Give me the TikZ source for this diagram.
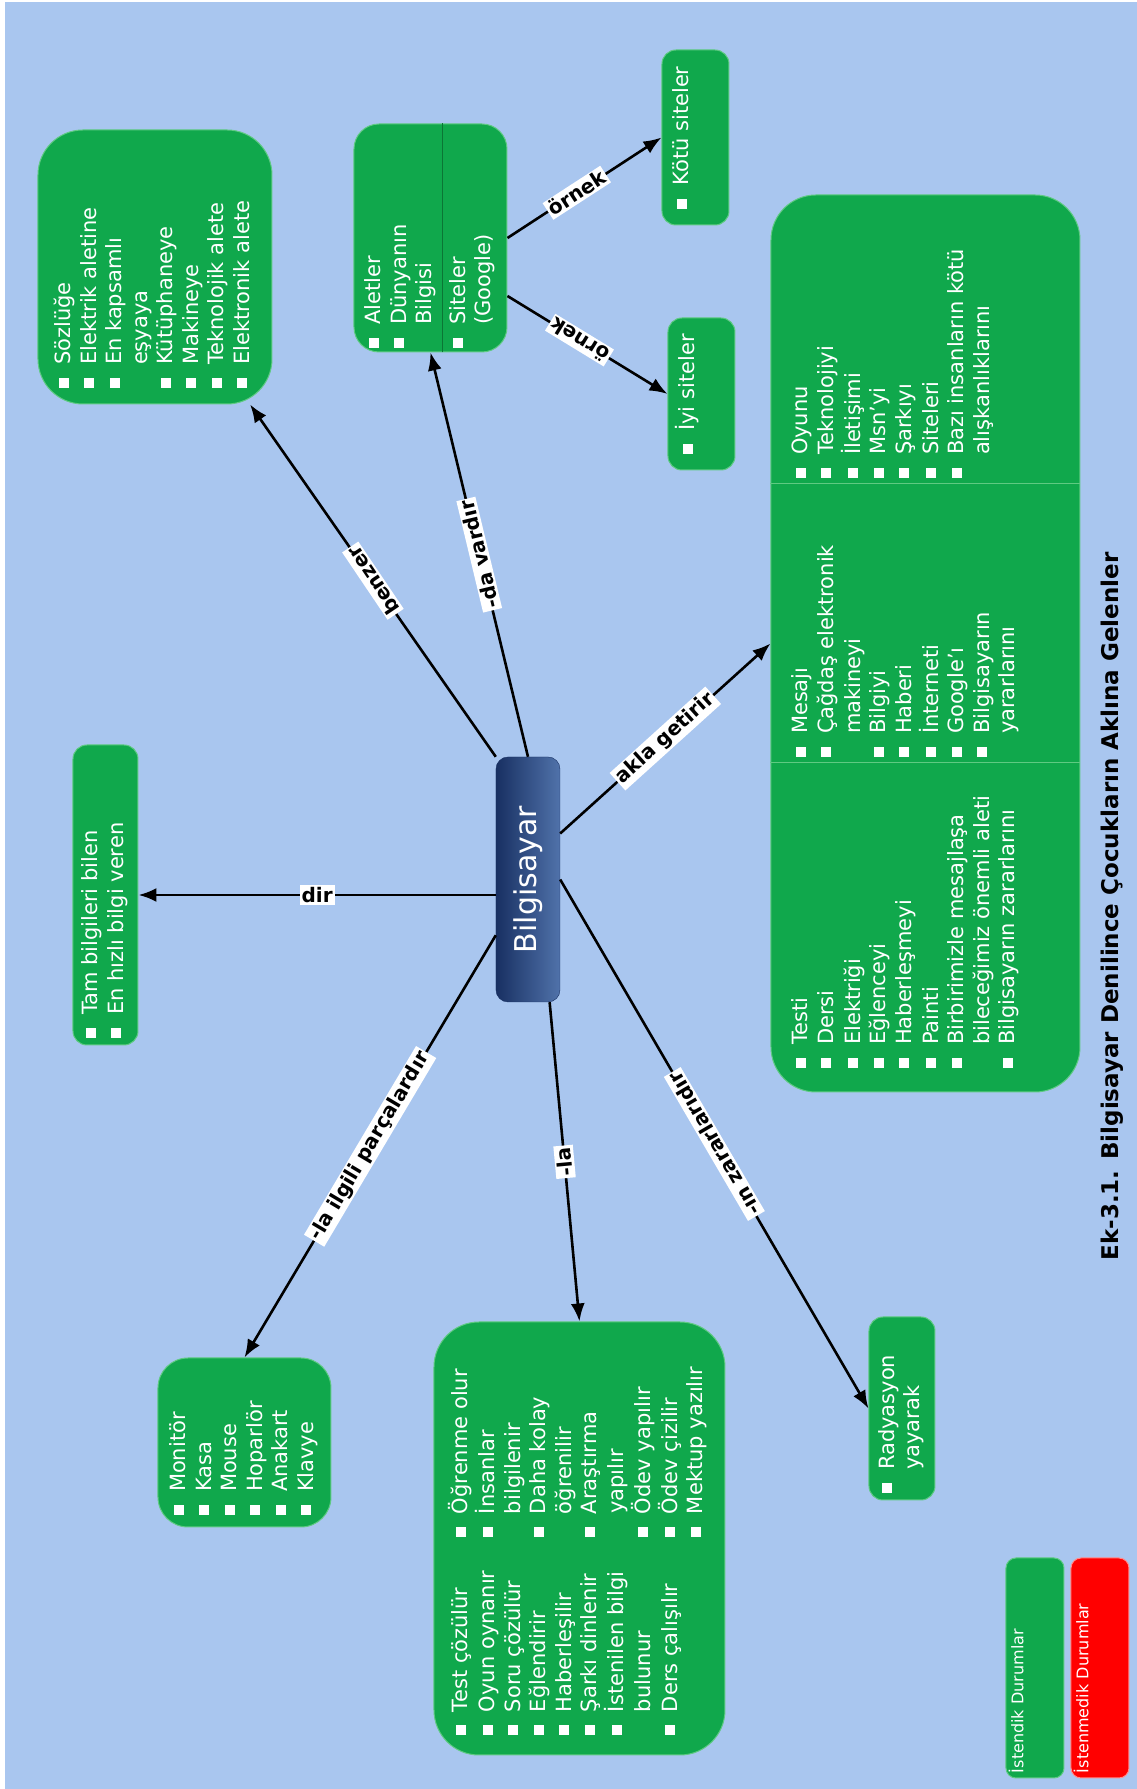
\documentclass[tikz,border=0pt]{standalone}
\usepackage{fontspec}
\setmainfont{DejaVu Sans}
\usetikzlibrary{arrows.meta}
\definecolor{bgblue}{RGB}{169,198,239}
\definecolor{mapgreen}{RGB}{16,168,76}
\definecolor{edgegreen}{RGB}{95,202,130}
\definecolor{navytop}{RGB}{24,48,98}
\definecolor{navybot}{RGB}{80,114,170}
\newcommand{\bul}{\rule[2pt]{10pt}{10pt}}
\begin{document}
\begin{tikzpicture}[
        rotate=90, transform shape, x=1pt, y=1pt,
        every node/.style={font=\fontsize{21}{25.5}\selectfont},
        concept/.style={fill=mapgreen, draw=edgegreen, line width=1pt, text=white, rounded corners=#1},
        concept/.default=15pt,
        leaf/.style={concept=14pt, inner xsep=4pt, inner ysep=6pt, text height=21pt, text depth=34pt, minimum height=67pt},
        central/.style={rounded corners=12pt, left color=navytop, right color=navybot, draw=navytop,
            text=white, font=\fontsize{30}{36}\selectfont, minimum width=245pt, minimum height=64pt},
        link/.style={draw, -{Latex[length=18pt,width=14pt]}, line width=2.6pt},
        phrase/.style={fill=white, text=black, inner sep=2pt, font=\bfseries\fontsize{20}{24}\selectfont},
        divline/.style={draw=edgegreen, line width=1pt},
        legend/.style={rounded corners=10pt, line width=1pt, text=white, font=\fontsize{16}{19}\selectfont,
            text width=210pt, align=left, inner xsep=5pt, inner ysep=3pt, text height=14.5pt, text depth=37.5pt}
    ]
    \useasboundingbox (0,0) rectangle (1789,1137);
    \fill[bgblue] (0,0) rectangle (1787,1132);

    \node[central] (bilg) at (909.5,609) {Bilgisayar};

    \node[concept=45pt, inner xsep=16pt, inner ysep=4pt, minimum width=274pt, minimum height=234pt] (soz) at (1522,982) {%
        \begin{tabular}{@{}l@{\hspace{13pt}}p{219pt}@{}}
            \bul & Sözlüğe\\
            \bul & Elektrik aletine\\
            \bul & En kapsamlı\\
                 & eşyaya\\
            \bul & Kütüphaneye\\
            \bul & Makineye\\
            \bul & Teknolojik alete\\
            \bul & Elektronik alete
        \end{tabular}};
    \node[concept=25pt, inner xsep=4pt, inner ysep=8.75pt, minimum width=228pt, minimum height=153pt] (alet) at (1551,706.5) {%
        \begin{tabular}{@{}l@{\hspace{13pt}}p{197pt}@{}}
            \bul & Aletler\\
            \bul & Dünyanın\\
                 & Bilgisi\\[8pt]
            \bul & Siteler\\
                 & (Google)
        \end{tabular}};
    \draw[draw=mapgreen!70!black, line width=1.2pt] ([yshift=-89.25pt]alet.north west) -- ([yshift=-89.25pt]alet.north east);
    \node[leaf, minimum width=175pt] (kotu) at (1651.5,441.5) {\bul\hspace{13pt}Kötü siteler};
    \node[leaf, minimum width=152pt] (iyi) at (1395,435.5) {\bul\hspace{13pt}İyi siteler};
    \node[concept=14pt, inner xsep=7pt, inner ysep=4pt, minimum width=300pt, minimum height=65pt] (tam) at (894,1031.5) {%
        \begin{tabular}{@{}l@{\hspace{13pt}}p{263pt}@{}}
            \bul & Tam bilgileri bilen\\
            \bul & En hızlı bilgi veren
        \end{tabular}};
    \node[concept=30pt, inner xsep=12pt, inner ysep=4pt, minimum width=169pt, minimum height=173pt] (parca) at (346.5,892.5) {%
        \begin{tabular}{@{}l@{\hspace{13pt}}p{122pt}@{}}
            \bul & Monitör\\
            \bul & Kasa\\
            \bul & Mouse\\
            \bul & Hoparlör\\
            \bul & Anakart\\
            \bul & Klavye
        \end{tabular}};
    \node[concept=45pt, inner xsep=20pt, inner ysep=4pt, minimum width=433pt, minimum height=291pt] (ile) at (250.5,557.5) {%
        \begin{tabular}{@{}l@{\hspace{13pt}}p{175pt}@{}l@{\hspace{13pt}}p{172pt}@{}}
            \bul & Test çözülür    & \bul & Öğrenme olur\\
            \bul & Oyun oynanır    & \bul & İnsanlar\\
            \bul & Soru çözülür    &      & bilgilenir\\
            \bul & Eğlendirir      & \bul & Daha kolay\\
            \bul & Haberleşilir    &      & öğrenilir\\
            \bul & Şarkı dinlenir  & \bul & Araştırma\\
            \bul & İstenilen bilgi &      & yapılır\\
                 & bulunur         & \bul & Ödev yapılır\\
            \bul & Ders çalışılır  & \bul & Ödev çizilir\\
                 &                 & \bul & Mektup yazılır
        \end{tabular}};
    \node[concept=14pt, inner xsep=7pt, inner ysep=4pt, minimum width=183pt, minimum height=66pt] (rad) at (380.5,235) {%
        \begin{tabular}{@{}l@{\hspace{13pt}}p{146pt}@{}}
            \bul & Radyasyon\\
                 & yayarak
        \end{tabular}};
    \node[concept=45pt, inner xsep=24pt, inner ysep=19pt, text height=18pt, text depth=253pt] (akla) at (1145.5,211.5) {%
        \begin{tabular}[t]{@{}l@{\hspace{13pt}}p{288pt}@{}l@{\hspace{13pt}}p{256pt}@{}l@{\hspace{13pt}}p{236pt}@{}}
            \bul & Testi                     & \bul & Mesajı            & \bul & Oyunu\\
            \bul & Dersi                     & \bul & Çağdaş elektronik & \bul & Teknolojiyi\\
            \bul & Elektriği                 &      & makineyi          & \bul & İletişimi\\
            \bul & Eğlenceyi                 & \bul & Bilgiyi           & \bul & Msn'yi\\
            \bul & Haberleşmeyi              & \bul & Haberi            & \bul & Şarkıyı\\
            \bul & Painti                    & \bul & İnterneti         & \bul & Siteleri\\
            \bul & Birbirimizle mesajlaşa    & \bul & Google'ı          & \bul & Bazı insanların kötü\\
                 & bileceğimiz önemli aleti  & \bul & Bilgisayarın      &      & alışkanlıklarını\\
            \bul & Bilgisayarın zararlarını  &      & yararlarını       &      &
        \end{tabular}};
    \draw[divline] ([xshift=330pt]akla.north west) -- ([xshift=330pt]akla.south west);
    \draw[divline] ([xshift=609pt]akla.north west) -- ([xshift=609pt]akla.south west);

    \draw[link] (bilg.north east) -- node[phrase, rotate=34] (lbenzer) {benzer} (soz);
    \draw[link] (bilg.east) -- node[phrase, rotate=13.5] (lvardir) {-da vardır} (alet.west);
    \draw[link] (bilg.north -| tam.south) -- node[phrase, rotate=-90] (ldir) {dir} (tam.south);
    \draw[link] (bilg.150) -- node[phrase, rotate=-30.7] (lparca) {-la ilgili parçalardır} (parca.east);
    \draw[link] (bilg.190) -- node[phrase, rotate=5.3] (lla) {-la} (ile.east);
    \draw[link] (bilg.south) -- node[phrase, rotate=30.3] (lzarar) {-ın zararlarıdır} (rad.north);
    \draw[link] (bilg.-35) -- node[phrase, rotate=-47.9] (lakla) {akla getirir} (akla.north);
    \draw[link] (alet.south) -- node[phrase, rotate=-57, pos=0.45] (lornekA) {örnek} (kotu.north);
    \draw[link] (alet.233) -- node[phrase, rotate=58.6, pos=0.45] (lornekB) {örnek} (iyi.north);

    \node[legend, fill=mapgreen, draw=edgegreen] (istendik) at (121,102) {İstendik Durumlar};
    \node[legend, fill=red, draw=red!45!white] (istenmedik) at (121,37) {İstenmedik Durumlar};
    \node[font=\bfseries\fontsize{23}{28}\selectfont] (caption) at (882.5,25) {Ek-3.1. Bilgisayar Denilince Çocukların Aklına Gelenler};
\end{tikzpicture}
\end{document}
